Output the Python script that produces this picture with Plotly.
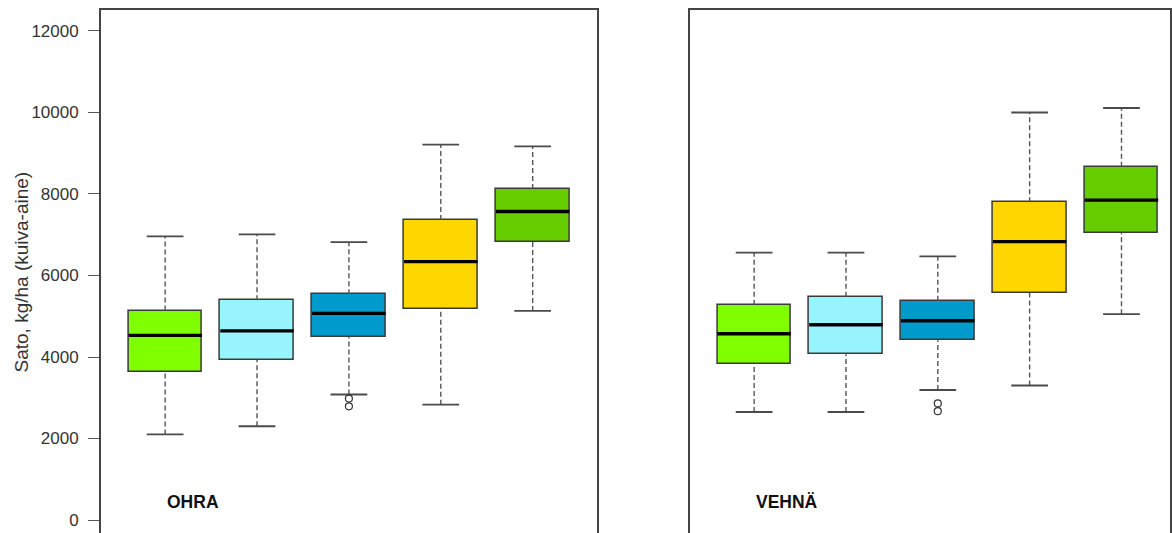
import plotly.graph_objects as go

# Five treatments per crop, drawn at positions 1..5
positions = [1, 2, 3, 4, 5]
box_colors = ["#7FFF00", "#98F5FF", "#009ACD", "#FFD700", "#66CD00"]

# OHRA (barley) yields, kg/ha dry matter
ohra_low = [2100, 2300, 3080, 2830, 5130]
ohra_q1 = [3630, 3930, 4500, 5180, 6820]
ohra_median = [4530, 4640, 5070, 6340, 7570]
ohra_q3 = [5140, 5390, 5540, 7360, 8120]
ohra_high = [6960, 7010, 6820, 9210, 9170]
ohra_out_x = [3, 3]
ohra_out_y = [2980, 2790]

# VEHNÄ (wheat) yields, kg/ha dry matter
vehna_low = [2650, 2650, 3190, 3300, 5050]
vehna_q1 = [3820, 4070, 4410, 5580, 7050]
vehna_median = [4570, 4790, 4890, 6830, 7850]
vehna_q3 = [5280, 5480, 5380, 7800, 8670]
vehna_high = [6560, 6560, 6470, 10000, 10110]
vehna_out_x = [3, 3]
vehna_out_y = [2860, 2670]

y_ticks = [0, 2000, 4000, 6000, 8000, 10000, 12000]
panel_labels = ["OHRA", "VEHNÄ"]
y_title = "Sato, kg/ha (kuiva-aine)"

BOX_W = 0.8
CAP_W = 0.4
LINE_DARK = "#3a3a3a"
WHISKER = "#555555"
FONT = "Liberation Sans, Arial"


def segments(xs, half, ys):
    sx, sy = [], []
    for x, y in zip(xs, ys):
        sx += [x - half, x + half, None]
        sy += [y, y, None]
    return sx, sy


def verticals(xs, y0s, y1s):
    sx, sy = [], []
    for x, a, b in zip(xs, y0s, y1s):
        sx += [x, x, None]
        sy += [a, b, None]
    return sx, sy


def add_panel(fig, xa, ya, low, q1, med, q3, high, ox, oy):
    common = dict(xaxis=xa, yaxis=ya, showlegend=False, hoverinfo="skip")
    # whiskers (dashed)
    wx, wy = verticals(positions, low, q1)
    wx2, wy2 = verticals(positions, q3, high)
    fig.add_trace(go.Scatter(x=wx + wx2, y=wy + wy2, mode="lines",
                             line=dict(color=WHISKER, width=1.4, dash="5px,3px"),
                             **common))
    # staples
    cx, cy = segments(positions, CAP_W / 2, low)
    cx2, cy2 = segments(positions, CAP_W / 2, high)
    fig.add_trace(go.Scatter(x=cx + cx2, y=cy + cy2, mode="lines",
                             line=dict(color="#4a4a4a", width=1.8), **common))
    # boxes from Q1 to Q3
    fig.add_trace(go.Bar(x=positions, y=[b - a for a, b in zip(q1, q3)], base=q1,
                         width=BOX_W, marker=dict(color=box_colors,
                                                  line=dict(color=LINE_DARK, width=1.5)),
                         **common))
    # medians
    mx, my = segments(positions, BOX_W / 2, med)
    fig.add_trace(go.Scatter(x=mx, y=my, mode="lines",
                             line=dict(color="black", width=3.4), **common))
    # outliers
    fig.add_trace(go.Scatter(x=ox, y=oy, mode="markers",
                             marker=dict(symbol="circle-open", size=7,
                                         color="#333333", line=dict(width=1.2)),
                             **common))


fig = go.Figure()
add_panel(fig, "x", "y", ohra_low, ohra_q1, ohra_median, ohra_q3, ohra_high,
          ohra_out_x, ohra_out_y)
add_panel(fig, "x2", "y2", vehna_low, vehna_q1, vehna_median, vehna_q3, vehna_high,
          vehna_out_x, vehna_out_y)

for i, (xa, lbl) in enumerate(zip(["x", "x2"], panel_labels)):
    fig.add_annotation(x=1, y=440, xref=xa, yref="y" if i == 0 else "y2",
                       text=f"<b>{lbl}</b>", showarrow=False, xanchor="left",
                       yanchor="middle",
                       font=dict(family=FONT, size=17.5, color="#111"))

W, H = 1172, 533

# rotated y-axis title
fig.add_annotation(x=22 / W, y=0.5, xref="paper", yref="paper", text=y_title,
                   textangle=-90, showarrow=False, xanchor="center", yanchor="middle",
                   font=dict(family=FONT, size=19, color="#333"))

y_range = [-319, 12515]
frame = dict(showline=True, mirror=True, linecolor="#444444", linewidth=1.5)

fig.update_layout(
    width=W, height=H,
    margin=dict(l=0, r=0, t=10, b=0),
    paper_bgcolor="white", plot_bgcolor="white",
    bargap=0, barmode="overlay",
    xaxis=dict(domain=[101 / W, 598 / W], range=[0.3, 5.7], showticklabels=False,
               ticks="", showgrid=False, zeroline=False, **frame),
    xaxis2=dict(domain=[691 / W, 1.0], range=[0.3, 0.3 + 481 / 92], showticklabels=False,
                ticks="", showgrid=False, zeroline=False, **frame),
    yaxis=dict(domain=[0, 1], range=y_range, tickvals=y_ticks,
               ticktext=[str(v) for v in y_ticks], ticks="outside", ticklen=11,
               tickcolor="#555555", tickwidth=1.4, ticklabelstandoff=6,
               showgrid=False, zeroline=False,
               tickfont=dict(family=FONT, size=17, color="#333"),
               **frame),
    yaxis2=dict(domain=[0, 1], range=y_range, anchor="x2", showticklabels=False,
                ticks="", showgrid=False, zeroline=False, **frame),
)

fig.write_html("out.html")
